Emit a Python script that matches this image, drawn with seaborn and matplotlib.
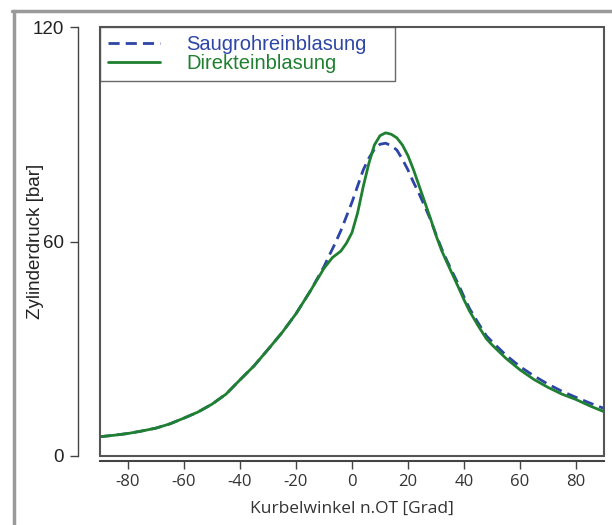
import numpy as np
import pandas as pd
import matplotlib
matplotlib.use("Agg")
import matplotlib.pyplot as plt
from matplotlib.lines import Line2D
from matplotlib.patches import Rectangle
import seaborn as sns

# ---- data ----
x_direkt = [-90, -85, -80, -75, -70, -65, -60, -55, -50, -45, -40, -35, -30, -25, -20,
            -15, -10, -7, -4, -2, 0, 2, 4, 6, 8, 10, 12, 14, 16, 18, 20, 22, 24, 26, 28,
            30, 32, 34, 36, 38, 40, 42, 45, 48, 50, 55, 60, 65, 70, 75, 80, 85, 90]
p_direkt = [5.4, 5.8, 6.3, 7.0, 7.8, 9.0, 10.6, 12.3, 14.5, 17.3, 21.3, 25.2, 29.8, 34.5, 39.8,
            46.0, 52.5, 55.5, 57.3, 59.5, 62.5, 68.0, 75.3, 81.8, 87.0, 89.6, 90.4, 90.0, 89.0, 87.0, 84.0,
            80.0, 75.5, 71.0, 66.5, 61.7, 57.5, 54.0, 50.6, 47.2, 43.7, 40.5, 36.5, 32.8, 31.1,
            27.3, 24.1, 21.4, 19.2, 17.3, 15.8, 14.0, 12.4]

x_saug = [-90, -85, -80, -75, -70, -65, -60, -55, -50, -45, -40, -35, -30, -25, -20,
          -15, -10, -8, -6, -4, -2, 0, 2, 4, 6, 8, 10, 12, 14, 16, 18, 20, 22, 24, 26, 28,
          30, 32, 34, 36, 38, 40, 42, 45, 48, 50, 55, 60, 65, 70, 75, 80, 85, 90]
p_saug = [5.4, 5.8, 6.3, 7.0, 7.8, 9.0, 10.6, 12.3, 14.5, 17.3, 21.3, 25.2, 29.8, 34.5, 39.8,
          46.0, 53.0, 56.3, 59.5, 63.0, 67.0, 71.0, 75.5, 80.0, 83.3, 85.8, 87.2, 87.5, 86.8, 85.6,
          83.0, 80.0, 76.5, 73.3, 69.8, 66.2, 62.0, 58.0, 54.5, 51.2, 48.0, 44.5, 41.2, 37.3, 33.6,
          32.0, 28.2, 25.0, 22.4, 20.1, 18.1, 16.4, 14.8, 13.3]

labels = ["Saugrohreinblasung", "Direkteinblasung"]
x_ticks = [-80, -60, -40, -20, 0, 20, 40, 60, 80]
y_ticks = [0, 60, 120]

blue = "#2D45A6"
green = "#1E8030"
PX = 0.72  # points per pixel at dpi 100

sns.set_theme(style="white")
plt.rcParams["font.family"] = ["Liberation Sans", "DejaVu Sans"]

W, H = 612, 525
fig = plt.figure(figsize=(W / 100, H / 100), dpi=100)
L, R, T, B = 100, 604, 27, 456
ax = fig.add_axes([L / W, (H - B) / H, (R - L) / W, (B - T) / H])

df_s = pd.DataFrame({"x": x_saug, "p": p_saug})
df_d = pd.DataFrame({"x": x_direkt, "p": p_direkt})
sns.lineplot(data=df_s, x="x", y="p", ax=ax, color=blue, lw=2.0,
             linestyle=(0, (4.0, 2.2)), label=labels[0])
sns.lineplot(data=df_d, x="x", y="p", ax=ax, color=green, lw=2.0, label=labels[1])

ax.set_xlim(-90, 90)
ax.set_ylim(0, 120)
ax.set_xticks(x_ticks)
ax.set_yticks(y_ticks)

# box frame
for s in ax.spines.values():
    s.set_visible(False)
ax.add_patch(Rectangle((0, 0), 1, 1, transform=ax.transAxes, fill=False,
                       edgecolor="#555555", lw=1.5, zorder=5, clip_on=False))
# detached axes
ax.spines["left"].set_visible(True)
ax.spines["left"].set_position(("outward", 22 * PX))
ax.spines["left"].set_color("#444444")
ax.spines["left"].set_linewidth(1.0)
ax.spines["bottom"].set_visible(True)
ax.spines["bottom"].set_position(("outward", 4.5 * PX))
ax.spines["bottom"].set_color("#444444")
ax.spines["bottom"].set_linewidth(1.5)

ax.tick_params(axis="y", direction="out", length=8 * PX, width=1.0, color="#444444",
               left=True, pad=6 * PX, labelsize=13.5, labelcolor="#222222")
ax.tick_params(axis="x", direction="out", length=8 * PX, width=1.0, color="#444444",
               bottom=True, pad=5 * PX, labelsize=12, labelcolor="#333333")
ax.set_xticklabels([str(v) for v in x_ticks], family=["Open Sans", "DejaVu Sans"])

ax.set_xlabel("Kurbelwinkel n.OT [Grad]", fontsize=12.5, family=["Open Sans", "DejaVu Sans"],
              color="#333333")
ax.xaxis.set_label_coords(0.5, -(509 - B) / (B - T), transform=ax.transAxes)
ax.xaxis.label.set_va("center")
ax.set_ylabel("Zylinderdruck [bar]", fontsize=13.5, color="#222222")
ax.yaxis.set_label_coords(-(L - 36) / (R - L), 0.5, transform=ax.transAxes)
ax.yaxis.label.set_va("center")

leg = ax.legend(loc="upper left", bbox_to_anchor=(0, 0.876, 0.585, 0.124), mode="expand",
                borderaxespad=0, frameon=True, fancybox=False, handlelength=2.6,
                handletextpad=1.3, fontsize=14.5, labelspacing=0.0, borderpad=0.4,
                labelcolor="linecolor")
leg.get_frame().set_edgecolor("#444444")
leg.get_frame().set_linewidth(1.0)
leg.set_zorder(6)

# outer gray frame
fig.add_artist(Line2D([12 / W, 1], [1 - 10.5 / H, 1 - 10.5 / H], transform=fig.transFigure,
                      color="#9a9a9a", lw=2.5))
fig.add_artist(Line2D([13.5 / W, 13.5 / W], [0, 1 - 10.5 / H], transform=fig.transFigure,
                      color="#9a9a9a", lw=2.5))

fig.savefig("out.png", dpi=100)
